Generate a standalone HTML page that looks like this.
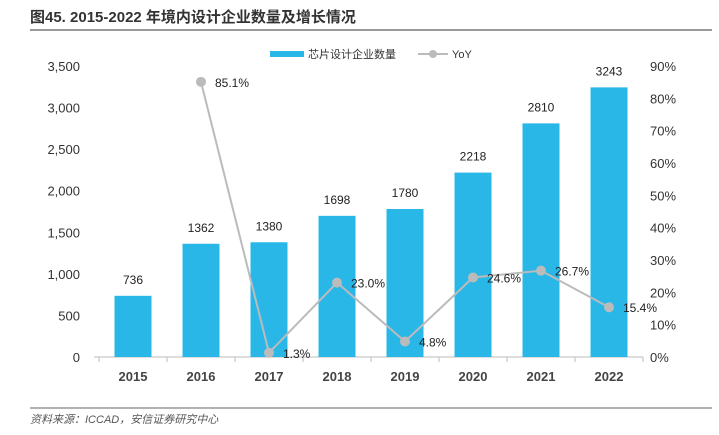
<!DOCTYPE html>
<html><head><meta charset="utf-8"><style>
body{margin:0;background:#fff;width:719px;height:435px;overflow:hidden;font-family:"Liberation Sans","Noto Sans CJK SC",sans-serif}
</style></head><body>
<svg width="719" height="435" style="position:absolute;left:0;top:0">
<text x="30" y="22" font-size="15" font-weight="bold" fill="#333">图45. 2015-2022 年境内设计企业数量及增长情况</text>
<line x1="30" y1="30" x2="712" y2="30" stroke="#999" stroke-width="2"/>
<g>
<rect x="270" y="51" width="34" height="6" fill="#29B7E8"/>
<text x="308" y="58" font-size="11" fill="#333">芯片设计企业数量</text>
<line x1="418" y1="54" x2="448" y2="54" stroke="#bbb" stroke-width="2"/>
<circle cx="433" cy="54" r="4" fill="#bbb"/>
<text x="452" y="58" font-size="11" fill="#333">YoY</text>
</g>
<g id="plot"></g>
<line x1="30" y1="408" x2="712" y2="408" stroke="#999" stroke-width="1.5"/>
<text x="30" y="423" font-size="11" font-style="italic" fill="#555">资料来源：ICCAD，安信证券研究中心</text>
</svg>
<script>
const years=["2015","2016","2017","2018","2019","2020","2021","2022"];
const counts=[736,1362,1380,1698,1780,2218,2810,3243];
const yoy=[null,85.1,1.3,23.0,4.8,24.6,26.7,15.4];
const leftTicks=[0,500,1000,1500,2000,2500,3000,3500];
const rightTicks=[0,10,20,30,40,50,60,70,80,90];
const NS="http://www.w3.org/2000/svg";
const g=document.getElementById('plot');
const X0=99,BW=68,Y0=357,Y1=66;
const xc=i=>X0+BW*(i+0.5);
const yl=v=>Y0-(v/3500)*(Y0-Y1);
const yr=v=>Y0-(v/90)*(Y0-Y1);
function el(t,a,txt){const e=document.createElementNS(NS,t);for(const k in a)e.setAttribute(k,a[k]);if(txt!=null)e.textContent=txt;g.appendChild(e);return e;}
let e=el('line',{x1:94,y1:Y0,x2:643,y2:Y0,stroke:'#bbb'});


leftTicks.forEach(v=>{const t=el('text',{x:80,y:yl(v)+5,'font-size':13,'text-anchor':'end',fill:'#333'},v.toLocaleString('en-US'));

});
rightTicks.forEach(v=>{const t=el('text',{x:650,y:yr(v)+5,'font-size':13,fill:'#333'},v+'%');

});
for(let i=0;i<=8;i++){const t=el('line',{x1:X0+BW*i,y1:Y0,x2:X0+BW*i,y2:Y0+5,stroke:'#bbb'});

}
years.forEach((y,i)=>{
const r=el('rect',{x:xc(i)-18.5,y:yl(counts[i]),width:37,height:Y0-yl(counts[i]),fill:'#29B7E8'});


const l=el('text',{x:xc(i),y:yl(counts[i])-12,'font-size':12,'text-anchor':'middle',fill:'#222'},counts[i]);


const xl=el('text',{x:xc(i),y:381,'font-size':13,'font-weight':'bold','text-anchor':'middle',fill:'#444'},y);


});
const pts=[];yoy.forEach((v,i)=>{if(v!=null)pts.push([xc(i),yr(v)]);});
const p=el('polyline',{points:pts.map(q=>q.join(',')).join(' '),fill:'none',stroke:'#bbb','stroke-width':2});


yoy.forEach((v,i)=>{if(v==null)return;
const c=el('circle',{cx:xc(i),cy:yr(v),r:5,fill:'#bbb'});


const t=el('text',{x:xc(i)+14,y:yr(v)+5,'font-size':12,fill:'#222'},v.toFixed(1)+'%');

});
</script>
</body></html>
